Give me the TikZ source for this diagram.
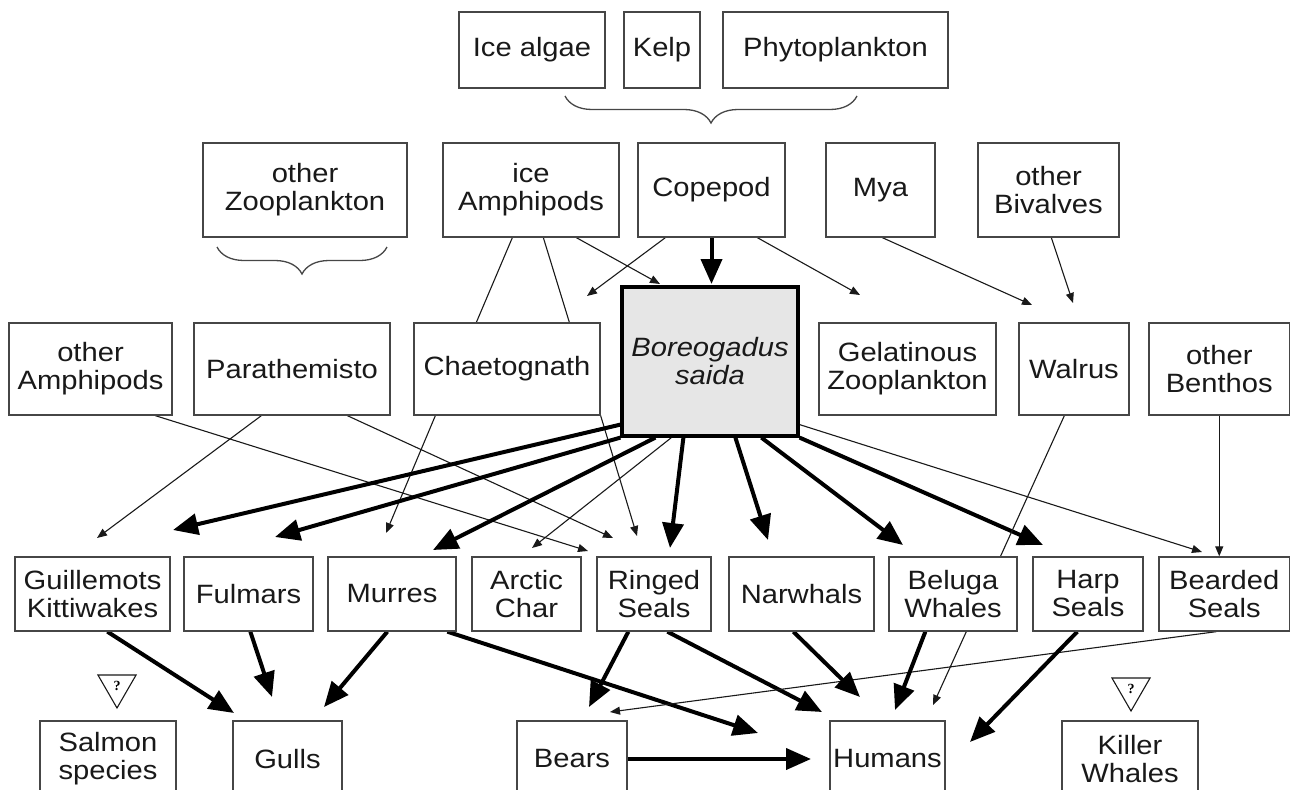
\documentclass[tikz,border=0pt]{standalone}
\usepackage{fontspec}
\setmainfont{Liberation Sans}[FakeStretch=1.1]
\newfontfamily\qfont{Liberation Serif}
\usetikzlibrary{arrows.meta,shapes.geometric,decorations.pathreplacing}
\pgfdeclarelayer{bg}
\pgfsetlayers{bg,main}
\definecolor{bordergray}{RGB}{70,70,70}
\definecolor{boxfill}{RGB}{230,230,230}
\definecolor{ink}{RGB}{25,25,25}
\begin{document}
\begin{tikzpicture}[x=1pt,y=-1pt,
  font=\fontsize{26.5}{28}\selectfont,
  box/.style={draw=bordergray, line width=1.3pt, fill=white, align=center, inner sep=0pt, text=ink},
  mainbox/.style={draw=black, line width=3.2pt, fill=boxfill, align=center, inner sep=0pt, text=ink, font=\fontsize{26.5}{28}\selectfont\itshape},
  thinarrow/.style={draw=ink, line width=1.1pt, -{Triangle[length=10pt,width=8pt]}},
  thickarrow/.style={draw=black, line width=4pt, -{Triangle[length=25pt,width=21pt]}},
  plainline/.style={draw=ink, line width=1.1pt},
  qtri/.style={draw=ink, line width=1.1pt, regular polygon, regular polygon sides=3, shape border rotate=180, minimum size=44pt, inner sep=0pt, font=\qfont\bfseries\fontsize{14}{14}\selectfont},
  bracestyle/.style={draw=bordergray, line width=1.3pt, decorate, decoration={brace, mirror, amplitude=27pt}}
]
\clip (0,0) rectangle (1291,790);

% top row
\node[box, minimum width=146pt, minimum height=76pt] (ice) at (532,50) {Ice algae};
\node[box, minimum width=76pt, minimum height=76pt] (kelp) at (662,50) {Kelp};
\node[box, minimum width=225pt, minimum height=76pt] (phyto) at (835.5,50) {Phytoplankton};
\draw[bracestyle] (565,96) -- (857,96);

% second row
\node[box, minimum width=204pt, minimum height=94pt] (ozoo) at (305,190) {other\\Zooplankton};
\draw[bracestyle] (217,247) -- (387,247);
\node[box, minimum width=176pt, minimum height=94pt] (iceamph) at (531,190) {ice\\Amphipods};
\node[box, minimum width=147pt, minimum height=94pt] (cope) at (711.5,190) {Copepod};
\node[box, minimum width=109pt, minimum height=94pt] (mya) at (880.5,190) {Mya};
\node[box, minimum width=141pt, minimum height=94pt] (obiv) at (1048.5,190) {other\\Bivalves};

% third row
\node[box, minimum width=163pt, minimum height=92pt] (oamph) at (90.5,369) {other\\Amphipods};
\node[box, minimum width=196pt, minimum height=92pt] (para) at (292,369) {Parathemisto};
\node[box, minimum width=186pt, minimum height=92pt] (chaet) at (507,369) {Chaetognath};
\node[mainbox, minimum width=176pt, minimum height=149pt] (boreo) at (710,361.5) {Boreogadus\\saida};
\node[box, minimum width=177pt, minimum height=92pt] (gelat) at (907.5,369) {Gelatinous\\Zooplankton};
\node[box, minimum width=110pt, minimum height=92pt] (walrus) at (1074,369) {Walrus};
\node[box, minimum width=140.5pt, minimum height=92pt] (obenth) at (1219.25,369) {other\\Benthos};

% fourth row
\node[box, minimum width=155pt, minimum height=74pt] (guill) at (92.5,594) {Guillemots\\Kittiwakes};
\node[box, minimum width=129pt, minimum height=74pt] (fulm) at (248.5,594) {Fulmars};
\node[box, minimum width=128pt, minimum height=74pt] (murres) at (392,594) {Murres};
\node[box, minimum width=109pt, minimum height=74pt] (arctic) at (526.5,594) {Arctic\\Char};
\node[box, minimum width=114pt, minimum height=74pt] (ringed) at (654,594) {Ringed\\Seals};
\node[box, minimum width=145pt, minimum height=74pt] (narwh) at (801.5,594) {Narwhals};
\node[box, minimum width=128pt, minimum height=74pt] (beluga) at (953,594) {Beluga\\Whales};
\node[box, minimum width=110pt, minimum height=74pt] (harp) at (1088,594) {Harp\\Seals};
\node[box, minimum width=130.5pt, minimum height=74pt] (bearded) at (1224.25,594) {Bearded\\Seals};

% bottom row
\node[box, minimum width=136pt, minimum height=76pt] (salmon) at (108,759) {Salmon\\species};
\node[box, minimum width=109pt, minimum height=76pt] (gulls) at (287.5,759) {Gulls};
\node[box, minimum width=110pt, minimum height=76pt] (bears) at (572,759) {Bears};
\node[box, minimum width=115pt, minimum height=76pt] (humans) at (887.5,759) {Humans};
\node[box, minimum width=136pt, minimum height=76pt] (killer) at (1130,759) {Killer\\Whales};

\node[qtri] (q1) at (117,686) {?};
\node[qtri] (q2) at (1131,689) {?};

% free arrow ends
\coordinate (t1) at (660,284);
\coordinate (t2) at (587,296);
\coordinate (t3) at (711.5,284);
\coordinate (t4) at (860,295);
\coordinate (t5) at (1032,305);
\coordinate (t6) at (1073,303);
\coordinate (t7) at (588,551);
\coordinate (t8) at (97,538);
\coordinate (t9) at (613,538);
\coordinate (t10) at (386,533);
\coordinate (t11) at (637,536);
\coordinate (t12) at (933,705);
\coordinate (u1) at (173,530);
\coordinate (u2) at (275,537);
\coordinate (u3) at (433,550);
\coordinate (u4) at (532,548);
\coordinate (u5) at (670,548);
\coordinate (u6) at (768,540);
\coordinate (u7) at (903,545);
\coordinate (u8) at (1043,545);
\coordinate (u9) at (1202,552);
\coordinate (v1) at (234,713);
\coordinate (v2) at (272,697);
\coordinate (v3) at (324,707);
\coordinate (v4) at (758,733);
\coordinate (v5) at (589,707);
\coordinate (v6) at (822,712);
\coordinate (v7) at (610,712);
\coordinate (v8) at (860,697);
\coordinate (v9) at (895,710);
\coordinate (v10) at (970,742);
\coordinate (v11) at (811,759);

\begin{pgfonlayer}{bg}
% upper links
\draw[plainline] ([xshift=70pt]iceamph.south west) -- ([xshift=63pt]chaet.north west);
\draw[plainline] ([xshift=101pt]iceamph.south west) -- ([xshift=156pt]chaet.north west);
\draw[thinarrow] ([xshift=134pt]iceamph.south west) -- (t1);
\draw[thinarrow] ([xshift=28pt]cope.south west) -- (t2);
\draw[thickarrow] (cope.south) -- (t3);
\draw[thinarrow] ([xshift=120pt]cope.south west) -- (t4);
\draw[thinarrow] ([xshift=57pt]mya.south west) -- (t5);
\draw[thinarrow] ([xshift=74pt]obiv.south west) -- (t6);
% middle links
\draw[thinarrow] ([xshift=147pt]oamph.south west) -- (t7);
\draw[thinarrow] ([xshift=68pt]para.south west) -- (t8);
\draw[thinarrow] ([xshift=154pt]para.south west) -- (t9);
\draw[thinarrow] ([xshift=22pt]chaet.south west) -- (t10);
\draw[thinarrow] (chaet.south east) -- (t11);
\draw[thickarrow] ([yshift=13pt]boreo.south west) -- (u1);
\draw[thickarrow] (boreo.south west) -- (u2);
\draw[thickarrow] ([xshift=35pt]boreo.south west) -- (u3);
\draw[thinarrow] ([xshift=51pt]boreo.south west) -- (u4);
\draw[thickarrow] ([xshift=63pt]boreo.south west) -- (u5);
\draw[thickarrow] ([xshift=115pt]boreo.south west) -- (u6);
\draw[thickarrow] ([xshift=141pt]boreo.south west) -- (u7);
\draw[thickarrow] (boreo.south east) -- (u8);
\draw[thinarrow] ([yshift=13pt]boreo.south east) -- (u9);
\draw[thinarrow] ([xshift=46pt]walrus.south west) -- (t12);
\draw[thinarrow] (obenth.south) -- (obenth.south |- bearded.north);
% lower links
\draw[thickarrow] ([xshift=93pt]guill.south west) -- (v1);
\draw[thickarrow] ([xshift=67pt]fulm.south west) -- (v2);
\draw[thickarrow] ([xshift=60pt]murres.south west) -- (v3);
\draw[thickarrow] ([xshift=120pt]murres.south west) -- (v4);
\draw[thickarrow] ([xshift=32pt]ringed.south west) -- (v5);
\draw[thickarrow] ([xshift=71pt]ringed.south west) -- (v6);
\draw[thinarrow] ([xshift=58pt]bearded.south west) -- (v7);
\draw[thickarrow] ([xshift=65pt]narwh.south west) -- (v8);
\draw[thickarrow] ([xshift=37pt]beluga.south west) -- (v9);
\draw[thickarrow] ([xshift=45pt]harp.south west) -- (v10);
\draw[thickarrow] (bears.east) -- (v11);
\end{pgfonlayer}
\end{tikzpicture}
\end{document}
